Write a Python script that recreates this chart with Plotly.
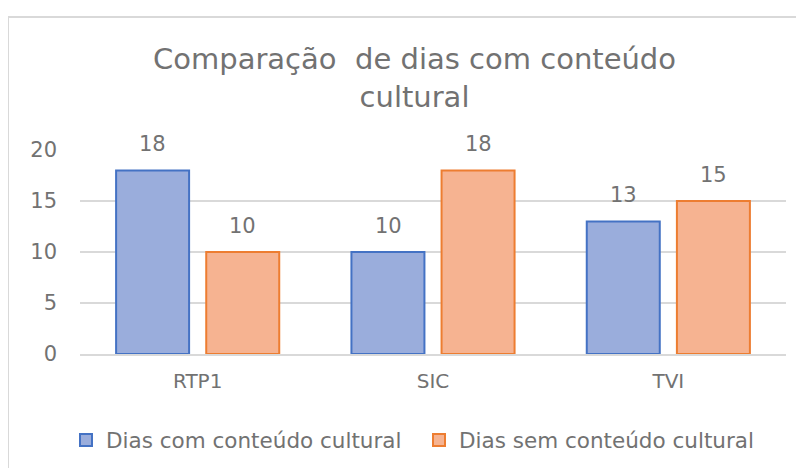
import plotly.graph_objects as go

categories = ["RTP1", "SIC", "TVI"]
com_cultural = [18, 10, 13]
sem_cultural = [10, 18, 15]
series_names = ["Dias com conteúdo cultural", "Dias sem conteúdo cultural"]
y_ticks = [0, 5, 10, 15, 20]
title_text = "Comparação  de dias com conteúdo<br>cultural"

TXT = "#727272"
FONT = "'DejaVu Sans', sans-serif"

OFF = 8  # page body margin
W, H = 804, 468
L, R, T, B = 72, 26, 142, 122
pw, ph = W - L - R, H - T - B


def px_x(px):
    return (px - OFF - L) / pw


def px_y(py):
    return (H - B - (py - OFF)) / ph


fig = go.Figure()
fig.add_trace(go.Bar(
    x=categories, y=com_cultural, name=series_names[0],
    marker=dict(color="#9aaddc", line=dict(color="#4472c4", width=2)),
))
fig.add_trace(go.Bar(
    x=categories, y=sem_cultural, name=series_names[1],
    marker=dict(color="#f6b391", line=dict(color="#ed7d31", width=2)),
))

# data labels above the bars
for vals, shift in ((com_cultural, -45), (sem_cultural, 45)):
    for c, v in zip(categories, vals):
        fig.add_annotation(x=c, y=v, text=str(v), showarrow=False,
                           xref="x", yref="y", xshift=shift, yshift=12,
                           yanchor="bottom", xanchor="center",
                           font=dict(size=21, color=TXT, family=FONT))

fig.update_layout(
    width=W, height=H,
    margin=dict(l=L, r=R, t=T, b=B),
    paper_bgcolor="white", plot_bgcolor="white",
    barmode="group", bargap=0.234, bargroupgap=0.19,
    font=dict(family=FONT, color=TXT),
    showlegend=True,
    legend=dict(orientation="h", x=px_x(66), xanchor="left",
                y=px_y(440), yanchor="middle",
                font=dict(size=21.5, color=TXT, family=FONT),
                itemwidth=30, traceorder="normal",
                entrywidth=308, entrywidthmode="pixels"),
    yaxis=dict(range=[0, 20], tickvals=y_ticks, showgrid=True,
               gridcolor="#d9d9d9", gridwidth=2, zeroline=False,
               showline=False, tickfont=dict(size=21, color=TXT, family=FONT),
               ticklabelstandoff=22),
    xaxis=dict(showline=True, linecolor="#d9d9d9", linewidth=2,
               tickfont=dict(size=20, color=TXT, family=FONT), ticks="",
               ticklabelstandoff=8),
)

fig.add_annotation(
    text=title_text,
    xref="paper", yref="paper", x=px_x(414), y=px_y(78),
    xanchor="center", yanchor="middle", showarrow=False,
    font=dict(size=29, color=TXT, family=FONT),
)

fig.add_shape(type="rect", xref="paper", yref="paper",
              x0=px_x(8), x1=px_x(840), y0=px_y(17), y1=px_y(520),
              line=dict(color="#d9d9d9", width=2), layer="below")

fig.write_html("out.html")
